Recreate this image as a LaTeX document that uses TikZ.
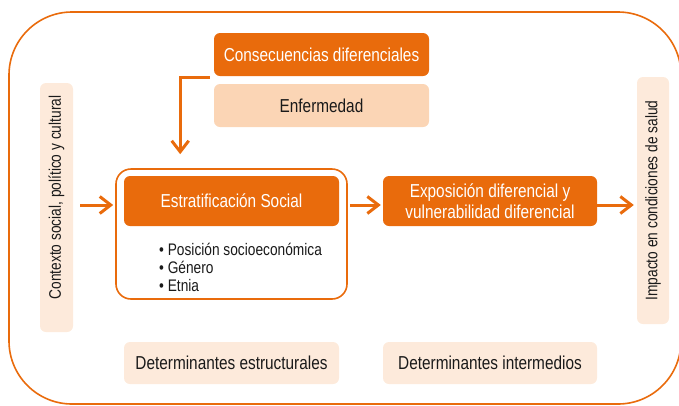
\documentclass[tikz,border=0pt]{standalone}
\usepackage{fontspec}
\setmainfont{Liberation Sans}[FakeStretch=0.82]
\usetikzlibrary{arrows.meta,calc}
\definecolor{org}{HTML}{E96B0C}
\definecolor{peach}{HTML}{FBD5B5}
\definecolor{pale}{HTML}{FDEADB}
\definecolor{ink}{HTML}{1A1A1A}
\begin{document}
\begin{tikzpicture}[x=1bp,y=-1bp,
  box/.style={rounded corners=6bp, inner sep=0pt, align=center},
  big/.style={font=\fontsize{18.8}{21}\selectfont},
  small/.style={font=\fontsize{16.8}{18}\selectfont},
  darkbox/.style={box, big, fill=org, text=white},
  peachbox/.style={box, big, fill=peach, text=ink},
  palebox/.style={box, fill=pale, text=ink},
  arr/.style={draw=org, line width=3bp, -{Straight Barb[length=11bp,width=17bp]}},
  frame/.style={draw=org, line width=1.6bp}
]
\useasboundingbox (0,0) rectangle (679,405);
% outer frame
\draw[frame, rounded corners=63bp] (9,12) rectangle (681,404);

% nodes
\node[darkbox, minimum width=215bp, minimum height=43bp] (cons) at (321.5,54.5) {Consecuencias diferenciales};
\node[peachbox, minimum width=215bp, minimum height=43bp] (enf) at (321.5,105.5) {Enfermedad};

\node[frame, fill=white, rounded corners=15bp, minimum width=231bp, minimum height=130bp, inner sep=0pt] (estrout) at (231.5,234) {};
\node[darkbox, minimum width=215bp, minimum height=50bp] (estr) at (231.5,201) {Estratificación Social};
\node[small, text=ink, align=left, anchor=west, inner sep=0pt] (bul) at (159,267)
  {• Posición socioeconómica\\• Género\\• Etnia};

\node[darkbox, minimum width=214bp, minimum height=50bp] (expo) at (490,201)
  {Exposición diferencial y\\vulnerabilidad diferencial};

\node[palebox, rotate=90, minimum width=249bp, minimum height=33bp] (ctx) at (56.5,207.5) {};
\node[small, text=ink, rotate=90, inner sep=0pt] (ctxt) at (56.5,197.5)
  {Contexto social, político y cultural};
\node[palebox, small, rotate=90, minimum width=247bp, minimum height=32bp] (imp) at (653,200.5)
  {Impacto en condiciones de salud};

\node[palebox, big, minimum width=215bp, minimum height=42bp] (det1) at (231.5,363) {Determinantes estructurales};
\node[palebox, big, minimum width=214bp, minimum height=42bp] (det2) at (490,363) {Determinantes intermedios};

% connectors
\coordinate (ay) at (0,205);
\coordinate (c1) at ($(estrout.north west)+(65,-14)$);
\draw[arr] ($(cons.south west)+(-4,1)$) -| (c1);
\draw[arr] ($(ctx.south |- ay)+(7,0)$) -- ($(estrout.west |- ay)+(-2,0)$);
\draw[arr] ($(estrout.east |- ay)+(2,0)$) -- ($(expo.west |- ay)+(-2,0)$);
\draw[arr] (expo.east |- ay) -- ($(imp.north |- ay)+(-3,0)$);
\end{tikzpicture}
\end{document}
